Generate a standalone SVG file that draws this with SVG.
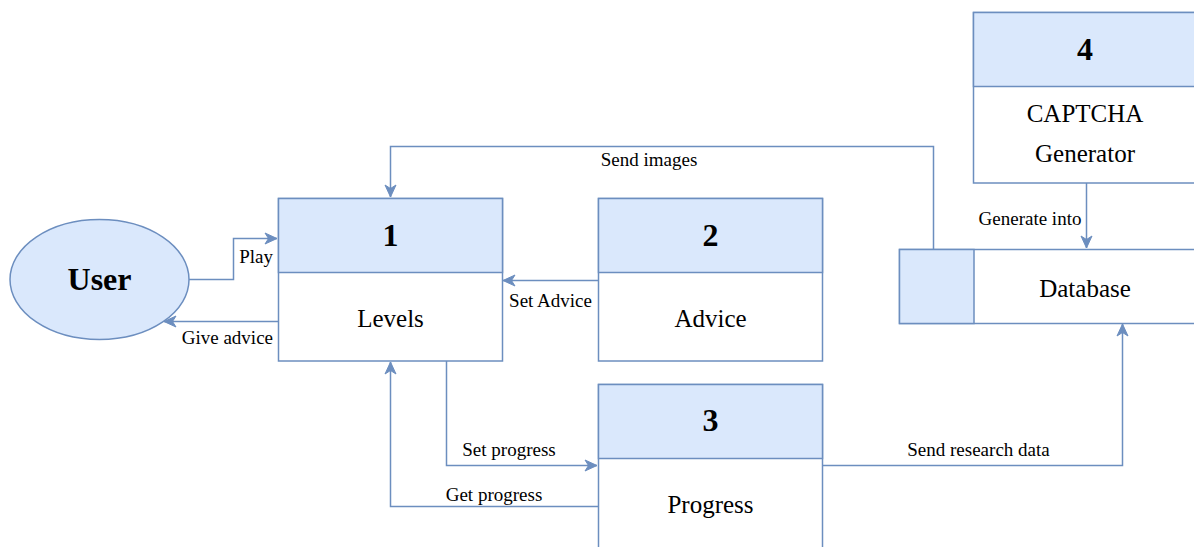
<svg xmlns="http://www.w3.org/2000/svg" width="1194" height="547" viewBox="0 0 1194 547">
  <style>
    .box { fill: #ffffff; stroke: #6c8ebf; stroke-width: 1.5; }
    .head { fill: #dae8fc; stroke: #6c8ebf; stroke-width: 1.5; }
    .num { font-weight: bold; font-size: 32px; text-anchor: middle; fill: #000; }
    .title { font-size: 25px; text-anchor: middle; fill: #000; }
    .lbl { font-size: 19px; fill: #000; }
    .edge { fill: none; stroke: #6c8ebf; stroke-width: 1.5; }
  </style>
  <defs>
    <marker id="arrow" viewBox="-13 -7 14 14" refX="0" refY="0" markerWidth="14" markerHeight="14" markerUnits="userSpaceOnUse" orient="auto">
      <path d="M0,0 L-12,-5.5 L-8.5,0 L-12,5.5 Z" fill="#6c8ebf" stroke="#6c8ebf" stroke-width="1" stroke-linejoin="miter"/>
    </marker>
  </defs>
  <rect width="1194" height="547" fill="#ffffff"/>

  <g font-family="'Liberation Serif', 'Times New Roman', serif">
  <!-- data flows -->
  <g id="connectors">
    <path class="edge" d="M189,279.5 H233.5 V238.5 H277" marker-end="url(#arrow)"/>
    <path class="edge" d="M278,321.5 H164" marker-end="url(#arrow)"/>
    <path class="edge" d="M598,280.5 H503" marker-end="url(#arrow)"/>
    <path class="edge" d="M933.5,249 V146.5 H390.5 V197" marker-end="url(#arrow)"/>
    <path class="edge" d="M446.5,361 V465.5 H597" marker-end="url(#arrow)"/>
    <path class="edge" d="M598,506.5 H390.5 V362" marker-end="url(#arrow)"/>
    <path class="edge" d="M822,465.5 H1122.5 V324" marker-end="url(#arrow)"/>
    <path class="edge" d="M1086.5,183 V248" marker-end="url(#arrow)"/>

    <text class="lbl" x="273" y="263" text-anchor="end">Play</text>
    <text class="lbl" x="273" y="344" text-anchor="end">Give advice</text>
    <text class="lbl" x="550.5" y="306.5" text-anchor="middle">Set Advice</text>
    <text class="lbl" x="649" y="166" text-anchor="middle">Send images</text>
    <text class="lbl" x="509" y="456" text-anchor="middle">Set progress</text>
    <text class="lbl" x="494" y="500.5" text-anchor="middle">Get progress</text>
    <text class="lbl" x="978.5" y="455.5" text-anchor="middle">Send research data</text>
    <text class="lbl" x="1030" y="225" text-anchor="middle">Generate into</text>
  </g>

  <!-- external entity -->
  <g id="user">
    <ellipse cx="99.5" cy="279.5" rx="89.5" ry="60" fill="#dae8fc" stroke="#6c8ebf" stroke-width="1.5"/>
    <text x="99.5" y="290" text-anchor="middle" font-weight="bold" font-size="32px">User</text>
  </g>

  <!-- process 1 -->
  <g id="levels">
    <rect class="box" x="278.5" y="198.5" width="224" height="162.5"/>
    <rect class="head" x="278.5" y="198.5" width="224" height="74"/>
    <text class="num" x="390.5" y="246">1</text>
    <text class="title" x="390.5" y="327">Levels</text>
  </g>

  <!-- process 2 -->
  <g id="advice">
    <rect class="box" x="598.5" y="198.5" width="224" height="162.5"/>
    <rect class="head" x="598.5" y="198.5" width="224" height="74"/>
    <text class="num" x="710.5" y="246">2</text>
    <text class="title" x="710.5" y="327">Advice</text>
  </g>

  <!-- process 3 -->
  <g id="progress">
    <rect class="box" x="598.5" y="384.5" width="224" height="170"/>
    <rect class="head" x="598.5" y="384.5" width="224" height="74"/>
    <text class="num" x="710.5" y="431">3</text>
    <text class="title" x="710.5" y="513">Progress</text>
  </g>

  <!-- process 4 -->
  <g id="captcha-generator">
    <rect class="box" x="973.5" y="12.5" width="230" height="170.5"/>
    <rect class="head" x="973.5" y="12.5" width="230" height="74"/>
    <text class="num" x="1085" y="60">4</text>
    <text class="title" x="1085" y="122">CAPTCHA</text>
    <text class="title" x="1085" y="162">Generator</text>
  </g>

  <!-- data store -->
  <g id="database">
    <rect class="box" x="899.5" y="249.5" width="310" height="74"/>
    <rect class="head" x="899.5" y="249.5" width="74.5" height="74"/>
    <text class="title" x="1085" y="297">Database</text>
  </g>
  </g>
</svg>
